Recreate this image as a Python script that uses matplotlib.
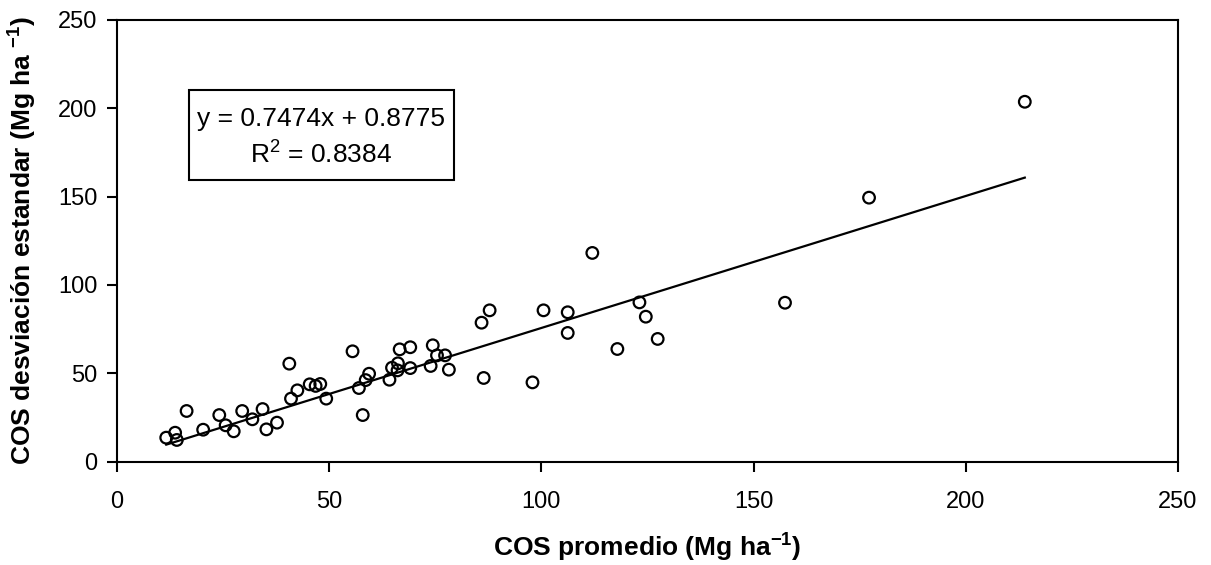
import matplotlib
matplotlib.use("Agg")
import matplotlib.pyplot as plt
import numpy as np

plt.rcParams['font.family'] = ['Liberation Sans', 'DejaVu Sans']
plt.rcParams['mathtext.fontset'] = 'custom'
plt.rcParams['mathtext.rm'] = 'Liberation Sans'
plt.rcParams['mathtext.bf'] = 'Liberation Sans:bold'

cos_mean = [11.6, 13.7, 14.1, 16.4, 20.3, 24.1, 25.6, 27.5, 29.5, 31.9, 34.3, 35.2, 37.7,
            40.6, 41.0, 42.5, 45.4, 46.8, 47.9, 49.3, 55.5, 57.0, 57.9, 58.6, 59.4, 64.2,
            64.8, 66.1, 66.2, 66.6, 69.1, 69.1, 73.9, 74.4, 75.4, 77.3, 78.2, 85.9, 87.8,
            86.4, 97.9, 100.5, 106.2, 106.2, 112.0, 117.9, 123.1, 124.6, 127.4, 157.4,
            177.2, 213.9]
cos_sd = [13.5, 16.3, 12.2, 28.6, 18.0, 26.3, 20.5, 17.1, 28.6, 23.9, 29.7, 18.2, 22.0,
          55.4, 35.6, 40.3, 43.7, 42.8, 43.9, 35.6, 62.4, 41.6, 26.3, 46.1, 49.7, 46.3,
          53.1, 51.6, 55.6, 63.5, 64.7, 52.9, 54.1, 65.8, 60.1, 60.1, 52.0, 78.6, 85.6,
          47.3, 44.8, 85.6, 84.5, 72.8, 118.1, 63.7, 90.1, 82.0, 69.4, 89.9,
          149.4, 203.7]
slope, intercept = 0.7474, 0.8775
ticks = [0, 50, 100, 150, 200, 250]

fig = plt.figure(figsize=(12.11, 5.65), dpi=100)
ax = fig.add_axes([117/1211, 1-461.5/565, (1178-117)/1211, (461.5-20)/565])

ax.scatter(cos_mean, cos_sd, s=70, facecolors='none', edgecolors='black', linewidths=1.6, zorder=3)
xl = np.array([min(cos_mean), max(cos_mean)])
ax.plot(xl, slope*xl + intercept, color='black', lw=1.6, zorder=2)

ax.set_xlim(0, 250)
ax.set_ylim(0, 250)
ax.set_xticks(ticks)
ax.set_yticks(ticks)
ax.tick_params(direction='out', length=7, width=1.5, labelsize=17,
               top=False, right=False)
ax.tick_params(axis='x', pad=14)
ax.tick_params(axis='y', pad=7)
for s in ax.spines.values():
    s.set_linewidth(1.5)

ax.set_xlabel(r'COS promedio (Mg ha$\mathdefault{^{-1}}$)', fontsize=19, fontweight='bold',
              va='center')
ax.xaxis.set_label_coords(0.5, (461.5-548)/441.5)
ax.set_ylabel(r'COS desviación estandar (Mg ha $\mathdefault{^{-1}}$)', fontsize=19, fontweight='bold',
              va='center')
ax.yaxis.set_label_coords((23-117)/1061, 0.5)

fig.text(321/1211, 1-119/565, 'y = 0.7474x + 0.8775', fontsize=19, ha='center', va='center')
fig.text(321/1211, 1-155/565, r'R$\mathdefault{^{2}}$ = 0.8384', fontsize=19, ha='center', va='center')
rect = plt.Rectangle((189/1211, 1-179.5/565), (454-189)/1211, (179.5-90)/565,
                     transform=fig.transFigure, fill=False, edgecolor='black', lw=1.5)
fig.add_artist(rect)

fig.savefig('out.png', dpi=100)
